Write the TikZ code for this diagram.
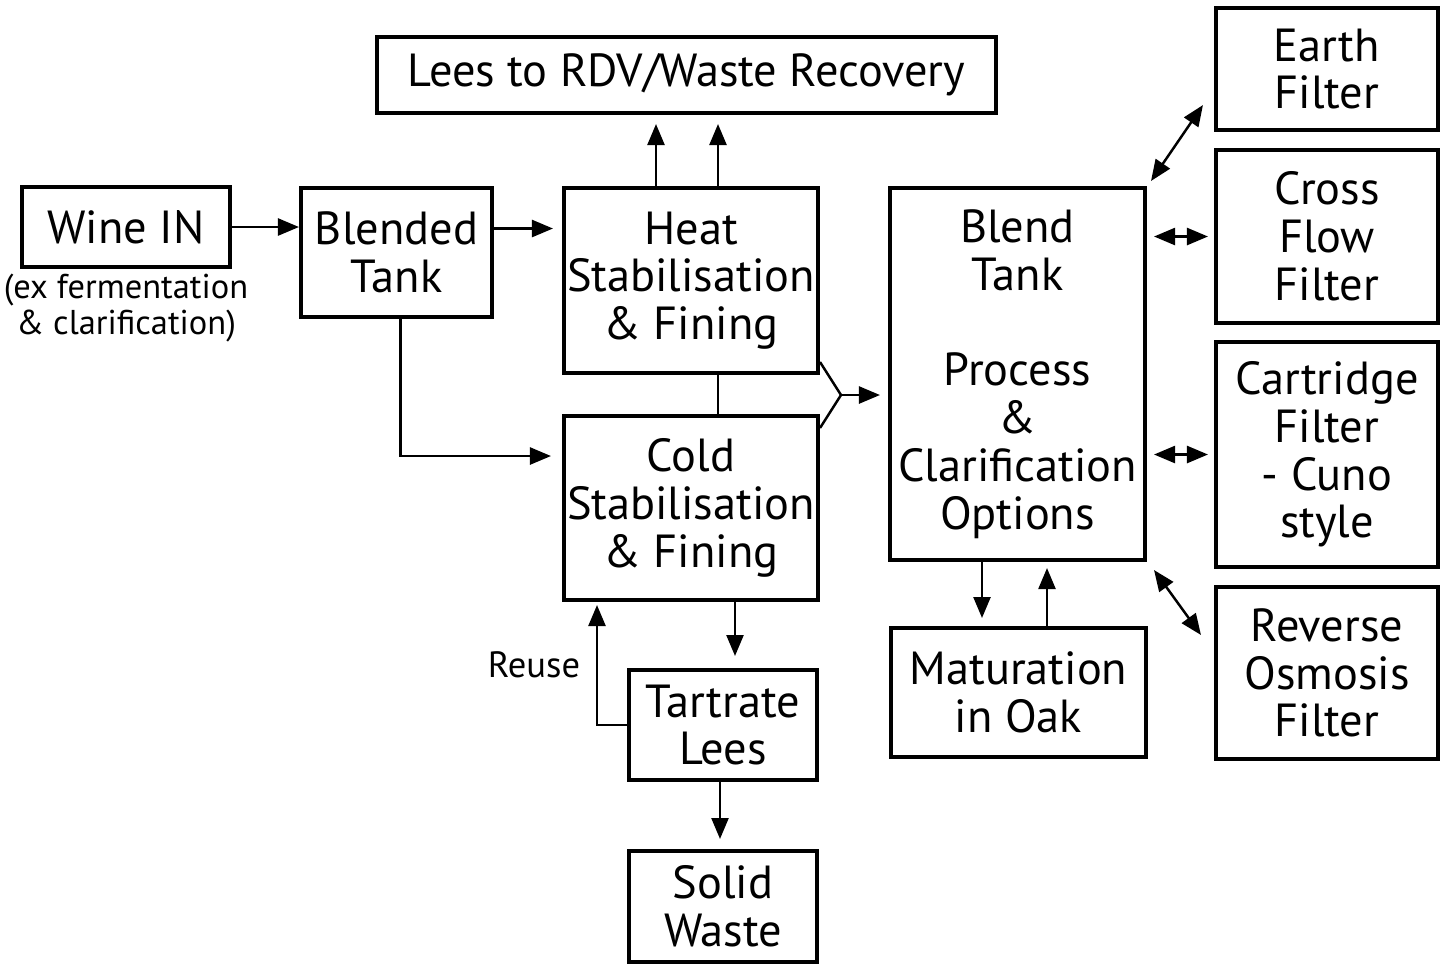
\documentclass[tikz,border=0pt]{standalone}
\usepackage{fontspec}
\setmainfont{PT Sans}
\usepackage{xcolor}
\usepackage{tikz}
\usetikzlibrary{arrows.meta,positioning,calc}
\tikzset{
  stage/.style={draw, line width=1.15pt, align=center, inner sep=0pt,
    font=\fontsize{13.2}{13.6}\selectfont},
  flow/.style={line width=0.7pt, -{Triangle[length=2.1mm,width=1.7mm]}},
  twoway/.style={line width=0.7pt, {Triangle[length=2.1mm,width=1.7mm]}-{Triangle[length=2.1mm,width=1.7mm]}},
  pipe/.style={line width=0.7pt}
}
\begin{document}
\begin{tikzpicture}[every node/.style={align=center}]
  \useasboundingbox (0,0) rectangle (14.46,-9.63);

  \node[stage, minimum width=2.08cm, minimum height=0.80cm] (wine) at (1.26,-2.27) {Wine IN};
  \node[font=\fontsize{9.8}{10.2}\selectfont] (winenote) at (1.26,-3.08)
    {(ex fermentation\\\& clarification)};
  \node[stage, minimum width=1.91cm, minimum height=1.29cm] (blended) at (3.965,-2.525) {Blended\\Tank};
  \node[stage, minimum width=2.54cm, minimum height=1.85cm] (heat) at (6.91,-2.805)
    {Heat\\Stabilisation\\\& Fining};
  \node[stage, minimum width=2.54cm, minimum height=1.84cm] (cold) at (6.91,-5.08)
    {Cold\\Stabilisation\\\& Fining};
  \node[stage, minimum width=6.19cm, minimum height=0.76cm] (lees) at (6.865,-0.75)
    {Lees to RDV/Waste Recovery};
  \node[stage, minimum width=2.55cm, minimum height=3.72cm] (blend) at (10.175,-3.74)
    {Blend\\Tank\\[13.6pt]Process\\\&\\Clarification\\Options};
  \node[stage, minimum width=2.55cm, minimum height=1.29cm] (oak) at (10.185,-6.925)
    {Maturation\\in Oak};
  \node[stage, minimum width=2.22cm, minimum height=1.22cm] (earth) at (13.27,-0.69) {Earth\\Filter};
  \node[stage, minimum width=2.22cm, minimum height=1.73cm] (crossflow) at (13.27,-2.365)
    {Cross\\Flow\\Filter};
  \node[stage, minimum width=2.22cm, minimum height=2.25cm] (cartridge) at (13.27,-4.545)
    {Cartridge\\Filter\\- Cuno\\style};
  \node[stage, minimum width=2.22cm, minimum height=1.72cm] (osmosis) at (13.27,-6.73)
    {Reverse\\Osmosis\\Filter};
  \node[stage, minimum width=1.88cm, minimum height=1.10cm] (tartrate) at (7.23,-7.25)
    {Tartrate\\Lees};
  \node[stage, minimum width=1.88cm, minimum height=1.11cm] (solid) at (7.23,-9.065)
    {Solid\\Waste};
  \node[font=\fontsize{10.4}{10.4}\selectfont] (reuse) at (5.34,-6.65) {Reuse};

  \draw[flow] (wine.east) -- (wine.east -| blended.west);
  \coordinate (heatin) at ([yshift=0.52cm]heat.west);
  \draw[flow, shorten >=0.09cm] (heatin -| blended.east) -- (heatin);
  \coordinate (coldin) at ([yshift=0.52cm]cold.west);
  \draw[flow, shorten >=0.11cm] ([xshift=0.04cm]blended.south) |- (coldin);
  \draw[pipe] ([xshift=0.27cm]heat.south) -- ([xshift=0.27cm]heat.south |- cold.north);
  \draw[flow, shorten >=0.09cm] ([xshift=-0.35cm]heat.north) -- ([xshift=-0.35cm]heat.north |- lees.south);
  \draw[flow, shorten >=0.09cm] ([xshift=0.27cm]heat.north) -- ([xshift=0.27cm]heat.north |- lees.south);

  \coordinate (merge) at (8.41,-3.95);
  \draw[pipe] ([yshift=0.13cm]heat.south east) -- (merge) -- ([yshift=-0.14cm]cold.north east);
  \draw[flow, shorten >=0.08cm] (merge) -- (merge -| blend.west);

  \draw[twoway] ([shift={(0.04cm,0.05cm)}]blend.north east) -- ([shift={(-0.11cm,0.27cm)}]earth.south west);
  \draw[twoway, shorten <=0.07cm, shorten >=0.06cm] (blend.east |- crossflow.west) -- (crossflow.west);
  \draw[twoway, shorten <=0.07cm, shorten >=0.06cm] (blend.east |- cartridge.west) -- (cartridge.west);
  \draw[twoway] ([shift={(0.07cm,-0.08cm)}]blend.south east) -- ([shift={(-0.13cm,-0.50cm)}]osmosis.north west);

  \draw[flow, shorten >=0.08cm] ([xshift=-0.355cm]blend.south) -- ([xshift=-0.355cm]blend.south |- oak.north);
  \draw[flow, shorten >=0.06cm] ([xshift=0.285cm]oak.north) -- ([xshift=0.285cm]oak.north |- blend.south);

  \draw[flow, shorten >=0.12cm] ([xshift=0.44cm]cold.south) -- ([xshift=0.44cm]cold.south |- tartrate.north);
  \draw[flow, shorten >=0.1cm] ([xshift=-0.03cm]tartrate.south) -- ([xshift=-0.03cm]solid.north);
  \draw[flow, shorten >=0.03cm] (tartrate.west) -| ([xshift=-0.94cm]cold.south);
\end{tikzpicture}
\end{document}
